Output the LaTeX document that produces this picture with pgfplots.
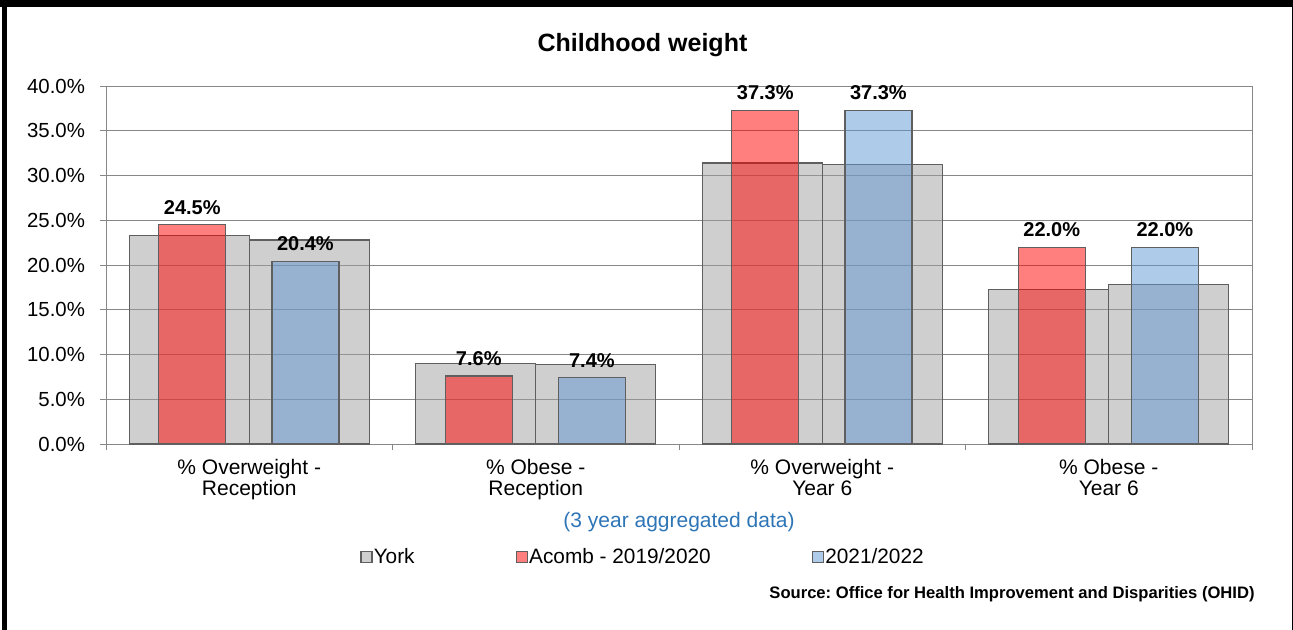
\documentclass[border=0pt]{standalone}
\usepackage{pgfplots}
\pgfplotsset{compat=1.18}
\usepackage{fontspec}
\setmainfont{Liberation Sans}
\frenchspacing
\definecolor{yorkgray}{RGB}{159,159,159}
\definecolor{acombred}{RGB}{255,0,0}
\definecolor{laterblue}{RGB}{93,151,211}
\definecolor{edgegray}{RGB}{95,95,95}
\definecolor{gridgray}{RGB}{135,135,135}
\definecolor{notecolor}{RGB}{46,117,182}
\begin{document}
\begin{tikzpicture}
\begin{axis}[
  at={(53pt,-222pt)}, anchor=south west,
  scale only axis, width=573pt, height=179pt,
  xmin=-0.5, xmax=3.5, ymin=0, ymax=40,
  ytick={0,5,...,40},
  ymajorgrids, grid style={draw=gridgray, line width=0.5pt},
  axis line style={draw=gridgray, line width=0.5pt},
  xtick pos=bottom, ytick pos=left,
  tick align=outside, major tick length=3pt, minor tick length=3pt,
  tick style={draw=gridgray, line width=0.5pt},
  /pgf/number format/assume math mode=true,
  tick label style={font=\fontsize{10.2}{12}\selectfont},
  yticklabel={\pgfmathprintnumber[fixed,fixed zerofill,precision=1]{\tick}\%},
  yticklabel style={xshift=-4pt},
  xtick={0,1,2,3},
  xticklabels={{\% Overweight -\\Reception},{\% Obese -\\Reception},{\% Overweight -\\Year 6},{\% Obese -\\Year 6}},
  xticklabel style={align=center, text depth=0pt, yshift=-1pt, font=\fontsize{10.5}{10.75}\selectfont},
  major x tick style={draw=none},
  minor xtick={-0.5,0.5,1.5,2.5,3.5},
  xlabel={(3 year aggregated data)},
  xlabel style={at={(axis description cs:0.5,-0.218)}, anchor=center, text=notecolor, font=\fontsize{10.5}{12}\selectfont},
  legend columns=3,
  legend image code/.code={\draw[#1] (0pt,-2.75pt) rectangle (5.5pt,2.75pt);},
  legend style={draw=none, fill=none, inner sep=0pt, anchor=west,
    at={(axis description cs:0.2216,-0.3156)},
    font=\fontsize{10.4}{12}\selectfont,
    nodes={inner sep=0.6pt},
    /tikz/every even column/.append style={column sep=50pt}},
  nodes near coords style={text opacity=1, fill opacity=1, font=\bfseries\fontsize{10}{12}\selectfont, anchor=south, yshift=1.5pt},
]
\addplot[ybar, bar width=60pt, bar shift=0pt, fill=yorkgray, fill opacity=0.5, draw=edgegray, line width=0.6pt]
  coordinates {(-0.2093,23.3) (0.2093,22.8) (0.7907,9.0) (1.2093,8.9) (1.7907,31.4) (2.2093,31.2) (2.7907,17.3) (3.2093,17.8)};
\addlegendentry{York}
\addplot[ybar, bar width=33.5pt, bar shift=0pt, fill=acombred, fill opacity=0.5, draw=edgegray, line width=0.6pt,
  nodes near coords={\pgfmathprintnumber[fixed,fixed zerofill,precision=1]{\pgfplotspointmeta}\%}]
  coordinates {(-0.199,24.5) (0.801,7.6) (1.801,37.3) (2.801,22.0)};
\addlegendentry{Acomb - 2019/2020}
\addplot[ybar, bar width=33.5pt, bar shift=0pt, fill=laterblue, fill opacity=0.5, draw=edgegray, line width=0.6pt,
  nodes near coords={\pgfmathprintnumber[fixed,fixed zerofill,precision=1]{\pgfplotspointmeta}\%}]
  coordinates {(0.196,20.4) (1.196,7.4) (2.196,37.3) (3.196,22.0)};
\addlegendentry{2021/2022}
\end{axis}
\node[anchor=base, font=\bfseries\fontsize{12.5}{15}\selectfont] at (321.25pt,-26pt) {Childhood weight};
\node[anchor=base east, inner sep=0pt, font=\bfseries\fontsize{8.3}{10}\selectfont] at (627.5pt,-299pt) {Source: Office for Health Improvement and Disparities (OHID)};
\draw[line width=2.5pt] (2.25pt,0pt) -- (2.25pt,-320pt);
\draw[line width=3.5pt] (0pt,-1.75pt) -- (650pt,-1.75pt);
\draw[line width=2.5pt] (647pt,0pt) -- (647pt,-320pt);
\pgfresetboundingbox
\path[use as bounding box] (0pt,0pt) rectangle (646.5pt,-315pt);
\end{tikzpicture}
\end{document}
